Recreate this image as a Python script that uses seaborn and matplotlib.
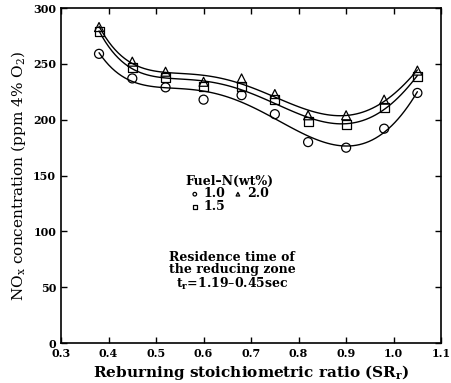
import numpy as np
import pandas as pd
import matplotlib
matplotlib.use("Agg")
import matplotlib.pyplot as plt
import seaborn as sns

# reburning stoichiometric ratio
sr = [0.38, 0.45, 0.52, 0.60, 0.68, 0.75, 0.82, 0.90, 0.98, 1.05]
# NOx (ppm, 4% O2) for each fuel-N content
nox_10 = [259, 237, 229, 218, 222, 205, 180, 175, 192, 224]
nox_15 = [279, 247, 238, 230, 230, 218, 198, 196, 211, 239]
nox_20 = [283, 252, 243, 234, 237, 223, 204, 204, 218, 244]
fuel_n = ["1.0", "1.5", "2.0"]

df = pd.DataFrame({
    "SR": sr * 3,
    "NOx": nox_10 + nox_15 + nox_20,
    "fuel": np.repeat(fuel_n, len(sr)),
})

sns.set_style("ticks")
plt.rcParams["font.family"] = ["DejaVu Serif"]
plt.rcParams["xtick.direction"] = "in"
plt.rcParams["ytick.direction"] = "in"
plt.rcParams["text.color"] = "black"
plt.rcParams["axes.labelcolor"] = "black"
plt.rcParams["xtick.color"] = "black"
plt.rcParams["ytick.color"] = "black"

fig = plt.figure(figsize=(4.52, 3.83), dpi=100)
ax = fig.add_axes([0.135, 0.104, 0.841, 0.875])

markers = {"1.0": "o", "1.5": "s", "2.0": "^"}
for f in fuel_n:
    sub = df[df["fuel"] == f]
    sns.regplot(data=sub, x="SR", y="NOx", order=5, ci=None, scatter=False,
                truncate=True, line_kws=dict(color="black", lw=1.0), ax=ax)
    ax.scatter(sub["SR"], sub["NOx"], marker=markers[f], s=42, facecolors="none",
               edgecolors="black", linewidths=0.9, label=f, zorder=3)

ax.set_xlim(0.3, 1.1)
ax.set_ylim(0, 300)
ax.set_xticks(np.arange(0.3, 1.101, 0.1))
ax.set_xticklabels([f"{v:.1f}" for v in np.arange(0.3, 1.101, 0.1)])
ax.set_yticks(range(0, 301, 50))
ax.tick_params(top=True, right=True, length=4, width=1, labelsize=8)
for lab in ax.get_xticklabels() + ax.get_yticklabels():
    lab.set_fontweight("bold")
for sp in ax.spines.values():
    sp.set_linewidth(1.2)
    sp.set_color("black")

ax.set_xlabel("Reburning stoichiometric ratio (SR$_\\mathregular{r}$)", fontsize=11, fontweight="bold", labelpad=3)
ax.set_ylabel("NO$_\\mathregular{x}$ concentration (ppm 4% O$_\\mathregular{2}$)", fontsize=11, labelpad=4)

leg = ax.legend(title="Fuel\u2013N(wt%)", ncol=2, frameon=False, fontsize=9,
                markerscale=0.4, handletextpad=0.3, columnspacing=0.6,
                labelspacing=0.0, borderpad=0, handlelength=0.8,
                loc="upper left", bbox_to_anchor=(0.31, 0.522))
leg.get_title().set_fontweight("bold")
leg.get_title().set_fontsize(9)
leg._legend_box.sep = 0
for t in leg.get_texts():
    t.set_fontweight("bold")

ax.text(0.45, 0.215, "Residence time of\nthe reducing zone\nt$_\\mathregular{r}$=1.19\u20130.45sec",
        transform=ax.transAxes, ha="center", va="center", fontsize=9,
        fontweight="bold", linespacing=0.95)

fig.savefig("out.png", dpi=100)
